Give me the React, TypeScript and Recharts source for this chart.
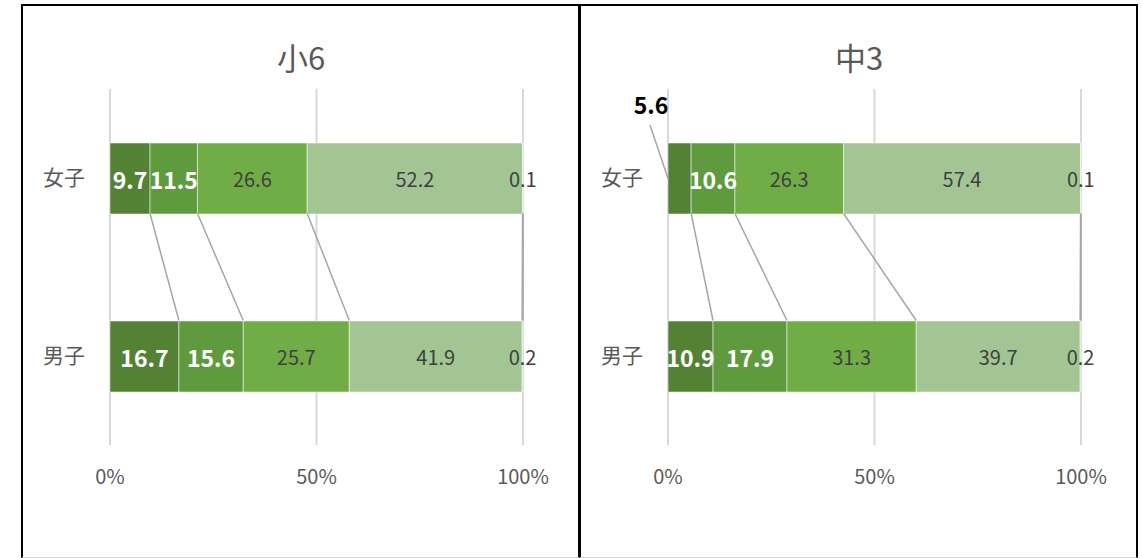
import { BarChart, Bar, XAxis, YAxis, CartesianGrid, LabelList, ReferenceLine } from "recharts";

const categories = ["女子", "男子"];
const seriesKeys = ["s1", "s2", "s3", "s4", "s5"];
const seriesColors = ["#548235", "#609a3e", "#70ad47", "#a3c593", "#c5ddb8"];
const boldSeries = [true, true, false, false, false];

const sho6Female = [9.7, 11.5, 26.6, 52.2, 0.1];
const sho6Male = [16.7, 15.6, 25.7, 41.9, 0.2];
const chu3Female = [5.6, 10.6, 26.3, 57.4, 0.1];
const chu3Male = [10.9, 17.9, 31.3, 39.7, 0.2];

const xTicks = [0, 0.5, 1];

const W = 558;
const H = 558;
const BAR = 71;
const FONT = "'Noto Sans CJK JP', 'Noto Sans', sans-serif";

function toRows(female: number[], male: number[]) {
  return [female, male].map((vals, i) => {
    const row: Record<string, any> = { name: categories[i] };
    seriesKeys.forEach((k, j) => (row[k] = vals[j]));
    return row;
  });
}

function cumFrac(vals: number[]) {
  const total = vals.reduce((a, b) => a + b, 0);
  let acc = 0;
  return vals.map((v) => (acc += v) / total);
}

// series line between the two bars, trimmed to the bar edges
const seriesLineShape = (p: any) => (
  <line
    x1={p.x1}
    y1={p.y1 + BAR / 2}
    x2={p.x2}
    y2={p.y2 - BAR / 2}
    stroke="#a6a6a6"
    strokeWidth={1.5}
  />
);

function makeLabel(seriesIdx: number, outsideFirst: boolean) {
  return (props: any) => {
    const vb = props.viewBox ?? props;
    const x = vb.x ?? props.x;
    const y = vb.y ?? props.y;
    const width = vb.width ?? props.width;
    const height = vb.height ?? props.height;
    const value = Number(props.value);
    const text = value.toFixed(1);
    if (outsideFirst && seriesIdx === 0 && props.index === 0) {
      return (
        <g>
          <line x1={x - 18} y1={y - 18} x2={x} y2={y + height / 2} stroke="#a6a6a6" strokeWidth={1.5} />
          <text
            x={x - 17}
            y={y - 39}
            textAnchor="middle"
            dominantBaseline="central"
            fontSize={23}
            fontWeight="bold"
            fill="#000000"
          >
            {text}
          </text>
        </g>
      );
    }
    const bold = boldSeries[seriesIdx];
    return (
      <text
        x={x + width / 2}
        y={y + height / 2}
        textAnchor="middle"
        dominantBaseline="central"
        fontSize={bold ? 23 : 20}
        fontWeight={bold ? "bold" : "normal"}
        fill={bold ? "#ffffff" : "#404040"}
      >
        {text}
      </text>
    );
  };
}

function Panel({
  left,
  title,
  female,
  male,
  outsideFirst,
}: {
  left: number;
  title: string;
  female: number[];
  male: number[];
  outsideFirst: boolean;
}) {
  const rows = toRows(female, male);
  const fw = cumFrac(female);
  const fm = cumFrac(male);
  return (
    <>
      <div
        style={{
          position: "absolute",
          left: left - 1,
          top: 4,
          width: W - 3,
          height: 551,
          borderTop: "2px solid #000",
          borderLeft: "2px solid #000",
          borderRight: "2px solid #000",
          borderBottom: "1px solid #d9d9d9",
        }}
      />
      <div
        style={{
          position: "absolute",
          left,
          top: 37,
          width: W,
          textAlign: "center",
          fontSize: 31,
          lineHeight: "40px",
          color: "#595959",
        }}
      >
        {title}
      </div>
      <div style={{ position: "absolute", left, top: 0 }}>
        <BarChart
          width={W}
          height={H}
          data={rows}
          layout="vertical"
          stackOffset="expand"
          margin={{ top: 89, right: 57, bottom: 73, left: 0 }}
        >
          <CartesianGrid horizontal={false} stroke="#d9d9d9" strokeWidth={2} />
          <XAxis
            type="number"
            domain={[0, 1]}
            ticks={xTicks}
            tickFormatter={(v: number) => `${Math.round(v * 100)}%`}
            axisLine={false}
            tickLine={false}
            tickSize={0}
            tickMargin={25}
            height={40}
            tick={{ fontSize: 20, fill: "#595959" }}
          />
          <YAxis
            type="category"
            dataKey="name"
            width={88}
            axisLine={false}
            tickLine={false}
            tickSize={0}
            tickMargin={25}
            tick={{ fontSize: 21, fill: "#595959" }}
          />
          {seriesKeys.map((k, i) => (
            <ReferenceLine
              key={"sl" + k}
              segment={[
                { x: fw[i], y: categories[0] },
                { x: fm[i], y: categories[1] },
              ]}
              ifOverflow="visible"
              shape={seriesLineShape}
            />
          ))}
          {seriesKeys.map((k, i) => (
            <Bar
              key={k}
              dataKey={k}
              stackId="a"
              fill={seriesColors[i]}
              stroke="#ffffff"
              strokeOpacity={0.5}
              strokeWidth={1}
              barSize={BAR}
              isAnimationActive={false}
            >
              <LabelList dataKey={k} content={makeLabel(i, outsideFirst)} />
            </Bar>
          ))}
        </BarChart>
      </div>
    </>
  );
}

export default function App() {
  return (
    <div
      style={{
        position: "absolute",
        left: 0,
        top: 0,
        width: 1142,
        height: 558,
        overflow: "hidden",
        background: "#ffffff",
        fontFamily: FONT,
      }}
    >
      <Panel left={22} title="小6" female={sho6Female} male={sho6Male} outsideFirst={false} />
      <Panel left={580} title="中3" female={chu3Female} male={chu3Male} outsideFirst={true} />
    </div>
  );
}
